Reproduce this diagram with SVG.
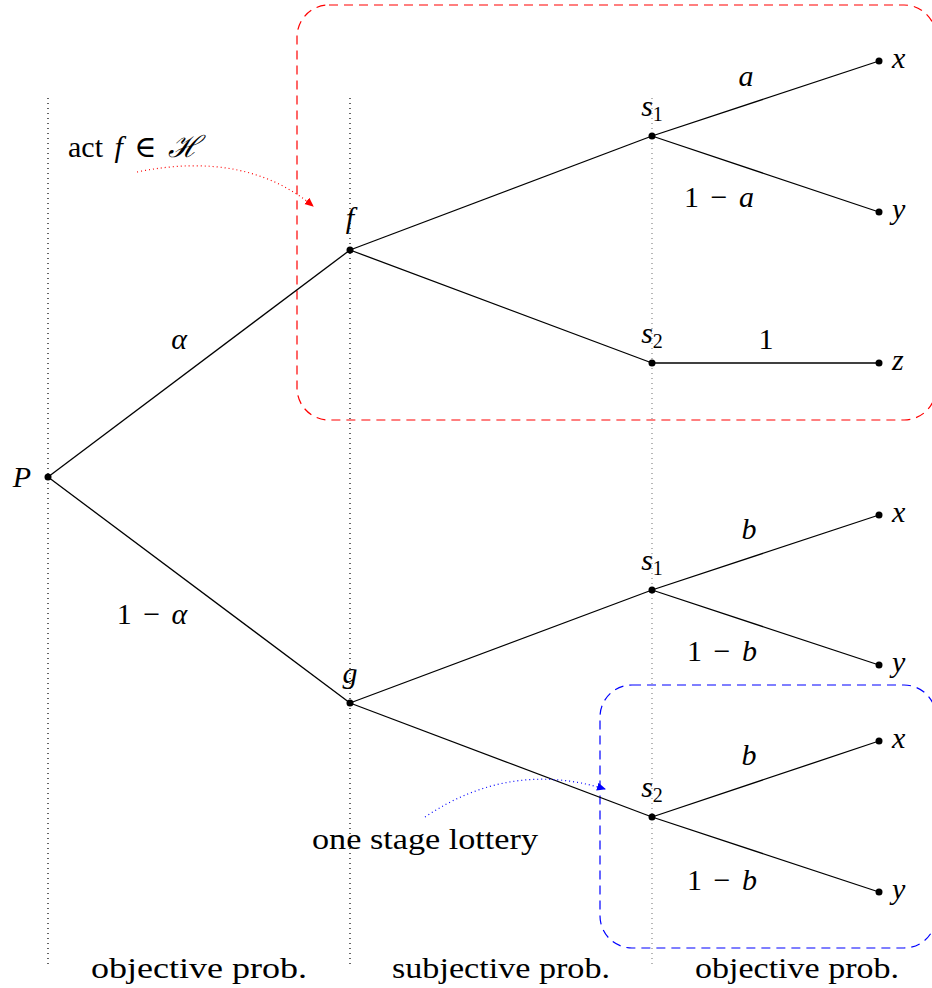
<svg xmlns="http://www.w3.org/2000/svg" width="932" height="988" viewBox="0 0 932 988">
<style>
text{font-family:'Liberation Serif','DejaVu Serif',serif;font-size:30px;fill:#000}
.m{font-style:italic}
.l{word-spacing:4px}
.e{stroke:#000;stroke-width:1.3;fill:none}
.v{stroke:#000;stroke-width:1.2;stroke-dasharray:1 4;fill:none}
.dot{fill:#000}
.sub{font-size:20px;font-style:normal}
</style>
<defs>
<marker id="ar" markerWidth="10" markerHeight="10" refX="8" refY="5" orient="auto" markerUnits="userSpaceOnUse"><path d="M0,1 L9,5 L0,9 Z" fill="#f00"/></marker>
<marker id="ab" markerWidth="10" markerHeight="10" refX="8" refY="5" orient="auto" markerUnits="userSpaceOnUse"><path d="M0,1 L9,5 L0,9 Z" fill="#00f"/></marker>
</defs>
<rect width="932" height="988" fill="#fff"/>
<g id="guides">
<line class="v" x1="48" y1="98" x2="48" y2="968"/>
<line class="v" x1="350" y1="98" x2="350" y2="968"/>
<line class="v" x1="652" y1="98" x2="652" y2="968" style="stroke:#888"/>
</g>
<g id="boxes">
<rect x="297" y="5" width="639" height="415" rx="32" fill="none" stroke="#f00" stroke-width="1.2" stroke-dasharray="9 6"/>
<rect x="600" y="685" width="336" height="263" rx="32" fill="none" stroke="#00f" stroke-width="1.2" stroke-dasharray="9 6"/>
</g>
<g id="connectors">
<line class="e" x1="48" y1="477" x2="350" y2="250"/>
<line class="e" x1="48" y1="477" x2="350" y2="703"/>
<line class="e" x1="350" y1="250" x2="652" y2="136"/>
<line class="e" x1="350" y1="250" x2="652" y2="363"/>
<line class="e" x1="652" y1="136" x2="879" y2="61"/>
<line class="e" x1="652" y1="136" x2="879" y2="212"/>
<line class="e" x1="652" y1="363" x2="879" y2="363"/>
<line class="e" x1="350" y1="703" x2="652" y2="590"/>
<line class="e" x1="350" y1="703" x2="652" y2="817"/>
<line class="e" x1="652" y1="590" x2="879" y2="515"/>
<line class="e" x1="652" y1="590" x2="879" y2="665"/>
<line class="e" x1="652" y1="817" x2="879" y2="741"/>
<line class="e" x1="652" y1="817" x2="879" y2="892"/>
<path d="M137,172 Q245,150 313,206" fill="none" stroke="#f00" stroke-width="1.2" stroke-dasharray="1 3" marker-end="url(#ar)"/>
<path d="M425,817 Q510,760 605,789" fill="none" stroke="#00f" stroke-width="1.2" stroke-dasharray="1 3" marker-end="url(#ab)"/>
</g>
<g id="edge-labels">
<text class="m" x="179" y="349" text-anchor="middle">α</text>
<text class="l" x="152" y="624" text-anchor="middle">1 − <tspan class="m">α</tspan></text>
<text class="m" x="746" y="86" text-anchor="middle">a</text>
<text class="l" x="719" y="207" text-anchor="middle">1 − <tspan class="m">a</tspan></text>
<text x="766" y="349" text-anchor="middle">1</text>
<text class="m" x="749" y="539" text-anchor="middle">b</text>
<text class="l" x="722" y="661" text-anchor="middle">1 − <tspan class="m">b</tspan></text>
<text class="m" x="749" y="765" text-anchor="middle">b</text>
<text class="l" x="722" y="890" text-anchor="middle">1 − <tspan class="m">b</tspan></text>
</g>
<g id="node-P"><circle class="dot" cx="48" cy="477" r="3.5"/><text class="m" x="22" y="487" text-anchor="middle">P</text></g>
<g id="node-f"><circle class="dot" cx="350" cy="250" r="3.5"/><text class="m" x="350" y="228" text-anchor="middle">f</text></g>
<g id="node-g"><circle class="dot" cx="350" cy="703" r="3.5"/><text class="m" x="350" y="683" text-anchor="middle">g</text></g>
<g id="node-s1a"><circle class="dot" cx="652" cy="136" r="3.5"/><text class="m" x="652" y="116" text-anchor="middle">s<tspan class="sub" dy="5">1</tspan></text></g>
<g id="node-s2a"><circle class="dot" cx="652" cy="363" r="3.5"/><text class="m" x="652" y="343" text-anchor="middle">s<tspan class="sub" dy="5">2</tspan></text></g>
<g id="node-s1b"><circle class="dot" cx="652" cy="590" r="3.5"/><text class="m" x="652" y="570" text-anchor="middle">s<tspan class="sub" dy="5">1</tspan></text></g>
<g id="node-s2b"><circle class="dot" cx="652" cy="817" r="3.5"/><text class="m" x="652" y="797" text-anchor="middle">s<tspan class="sub" dy="5">2</tspan></text></g>
<g id="leaf-x1"><circle class="dot" cx="879" cy="61" r="3.5"/><text class="m" x="892" y="68">x</text></g>
<g id="leaf-y1"><circle class="dot" cx="879" cy="212" r="3.5"/><text class="m" x="892" y="219">y</text></g>
<g id="leaf-z"><circle class="dot" cx="879" cy="363" r="3.5"/><text class="m" x="892" y="370">z</text></g>
<g id="leaf-x2"><circle class="dot" cx="879" cy="515" r="3.5"/><text class="m" x="892" y="522">x</text></g>
<g id="leaf-y2"><circle class="dot" cx="879" cy="665" r="3.5"/><text class="m" x="892" y="672">y</text></g>
<g id="leaf-x3"><circle class="dot" cx="879" cy="741" r="3.5"/><text class="m" x="892" y="748">x</text></g>
<g id="leaf-y3"><circle class="dot" cx="879" cy="892" r="3.5"/><text class="m" x="892" y="899">y</text></g>
<g id="annotations">
<text class="l" x="68" y="157">act <tspan class="m">f</tspan> ∈ <tspan class="m">ℋ</tspan></text>
<text x="425" y="849" text-anchor="middle" textLength="226" lengthAdjust="spacingAndGlyphs">one stage lottery</text>
<text x="199" y="978" text-anchor="middle" textLength="216" lengthAdjust="spacingAndGlyphs">objective prob.</text>
<text x="501" y="978" text-anchor="middle" textLength="218" lengthAdjust="spacingAndGlyphs">subjective prob.</text>
<text x="797" y="978" text-anchor="middle" textLength="204" lengthAdjust="spacingAndGlyphs">objective prob.</text>
</g>
</svg>
